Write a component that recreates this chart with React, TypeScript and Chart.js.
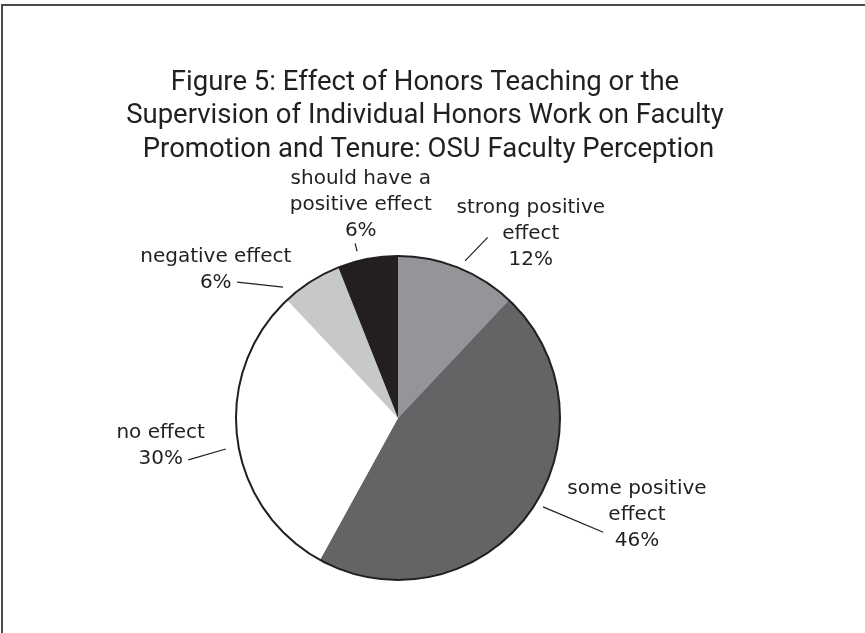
import React, { useEffect, useRef } from 'react';
import { Chart, registerables } from 'chart.js';

Chart.register(...registerables);

const titleLines = [
  'Figure 5: Effect of Honors Teaching or the',
  'Supervision of Individual Honors Work on Faculty',
  ' Promotion and Tenure: OSU Faculty Perception',
];
const categories = [
  'strong positive effect',
  'some positive effect',
  'no effect',
  'negative effect',
  'should have a positive effect',
];
const values = [12, 46, 30, 6, 6];
const labelLines = [
  ['strong positive', 'effect'],
  ['some positive', 'effect'],
  ['no effect'],
  ['negative effect'],
  ['should have a', 'positive effect'],
];
const colors = ['#939598', '#636466', '#ffffff', '#c7c8ca', '#231f20'];

// label layout: text block centre offset from pie centre (in radii), leader line polar (deg from 12 o'clock, radii)
const labelLayout = [
  { tx: 0.82, ty: -1.14, s: [23.1, 1.055], e: [26.4, 1.245] },
  { tx: 1.475, ty: 0.6, s: [121.5, 1.05], e: [119.1, 1.45] },
  { tx: -1.465, ty: 0.17, s: [259.8, 1.08], e: [258.7, 1.32] },
  { tx: -1.125, ty: -0.915, s: [318.7, 1.075], e: [310.2, 1.3] },
  { tx: -0.23, ty: -1.315, s: [346.2, 1.06], e: [346.2, 1.11] },
];

export default function App() {
  const ref = useRef<HTMLCanvasElement>(null);
  useEffect(() => {
    const deco = {
      id: 'deco',
      beforeDraw(chart: any) {
        const ctx = chart.ctx;
        ctx.save();
        ctx.fillStyle = '#ffffff';
        ctx.fillRect(0, 0, chart.width, chart.height);
        ctx.strokeStyle = '#4a4a4a';
        ctx.lineWidth = 2;
        ctx.beginPath();
        ctx.moveTo(2, chart.height);
        ctx.lineTo(2, 5);
        ctx.lineTo(chart.width, 5);
        ctx.stroke();
        ctx.fillStyle = '#231f20';
        ctx.font = '400 27.5px Roboto';
        ctx.textAlign = 'center';
        ctx.textBaseline = 'middle';
        titleLines.forEach((t, i) => ctx.fillText(t, 425, 83 + i * 33.5));
        ctx.restore();
      },
      afterDatasetsDraw(chart: any) {
        const ctx = chart.ctx;
        const meta = chart.getDatasetMeta(0);
        const a0 = meta.data[0];
        const cx = a0.x, cy = a0.y, R = a0.outerRadius;
        ctx.save();
        ctx.strokeStyle = '#231f20';
        ctx.lineWidth = 2;
        ctx.beginPath();
        ctx.arc(cx, cy, R, 0, Math.PI * 2);
        ctx.stroke();
        const pol = (deg: number, r: number) => {
          const a = (deg * Math.PI) / 180;
          return [cx + Math.sin(a) * r * R, cy - Math.cos(a) * r * R];
        };
        ctx.lineWidth = 1.2;
        ctx.fillStyle = '#231f20';
        ctx.font = '20px "DejaVu Sans"';
        ctx.textAlign = 'center';
        ctx.textBaseline = 'middle';
        labelLayout.forEach((L, i) => {
          const [x1, y1] = pol(L.s[0], L.s[1]);
          const [x2, y2] = pol(L.e[0], L.e[1]);
          ctx.beginPath();
          ctx.moveTo(x1, y1);
          ctx.lineTo(x2, y2);
          ctx.stroke();
          const lines = [...labelLines[i], values[i] + '%'];
          const lh = 26;
          const bx = cx + L.tx * R;
          const by = cy + L.ty * R - ((lines.length - 1) * lh) / 2;
          lines.forEach((t, j) => ctx.fillText(t, bx, by + j * lh));
        });
        ctx.restore();
      },
    };
    const chart = new Chart(ref.current as HTMLCanvasElement, {
      type: 'pie',
      data: {
        labels: categories,
        datasets: [
          {
            data: values,
            backgroundColor: colors,
            borderWidth: 0,
            hoverOffset: 0,
          },
        ],
      },
      options: {
        responsive: false,
        animation: false,
        events: [],
        layout: { padding: { left: 236, right: 305, top: 256, bottom: 53 } },
        plugins: {
          legend: { display: false },
          tooltip: { enabled: false },
          title: { display: false },
        },
      },
      plugins: [deco],
    } as any);
    return () => chart.destroy();
  }, []);
  return (
    <div style={{ position: 'fixed', left: 0, top: 0, width: 865, height: 633, background: '#fff' }}>
      <canvas ref={ref} width={865} height={633} style={{ display: 'block' }} />
    </div>
  );
}
